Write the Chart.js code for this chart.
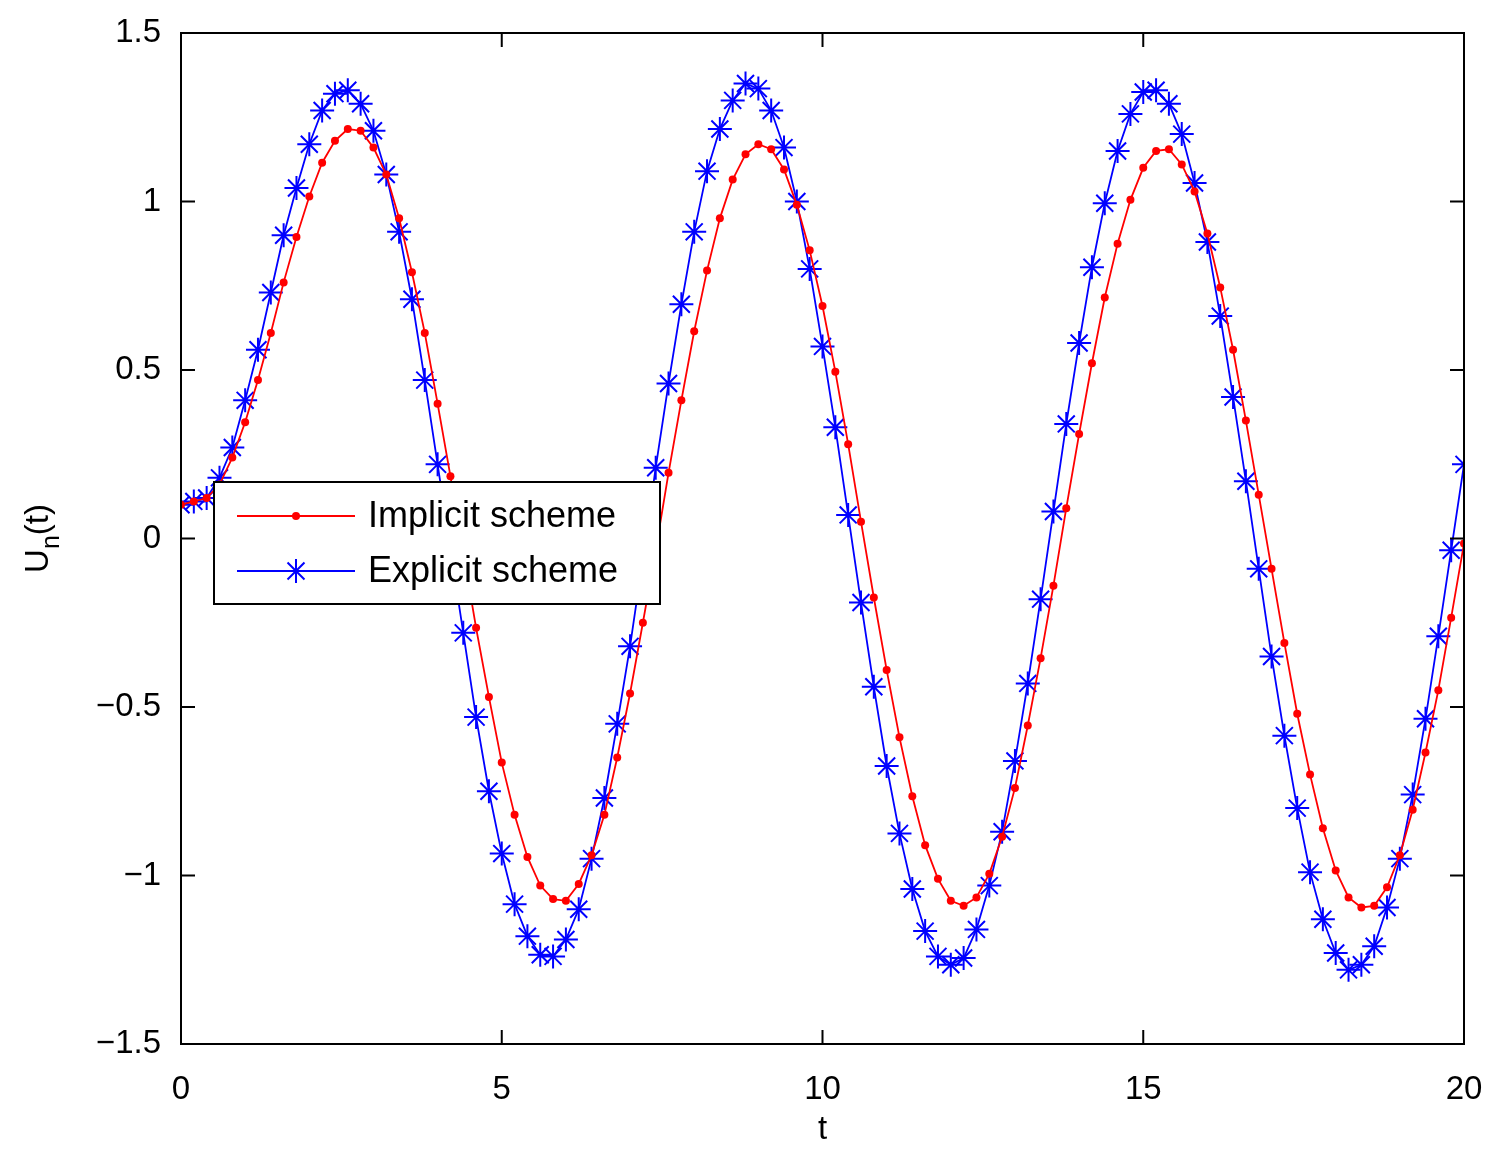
<!DOCTYPE html>
<html>
<head>
<meta charset="utf-8">
<script src="https://cdn.jsdelivr.net/npm/chart.js@4.4.0/dist/chart.umd.min.js"></script>
<style>
  html, body { margin: 0; padding: 0; background: #fff; }
  #wrap { width: 1503px; height: 1154px; }
</style>
</head>
<body>
<div id="wrap"><canvas id="chart" width="1503" height="1154"></canvas></div>
<script>
const tValues = [
  0, 0.2, 0.4, 0.6, 0.8, 1, 1.2, 1.4, 1.6, 1.8, 2, 2.2, 2.4, 2.6, 2.8, 3, 3.2, 3.4, 3.6, 3.8,
  4, 4.2, 4.4, 4.6, 4.8, 5, 5.2, 5.4, 5.6, 5.8, 6, 6.2, 6.4, 6.6, 6.8, 7, 7.2, 7.4, 7.6, 7.8,
  8, 8.2, 8.4, 8.6, 8.8, 9, 9.2, 9.4, 9.6, 9.8, 10, 10.2, 10.4, 10.6, 10.8, 11, 11.2, 11.4, 11.6, 11.8,
  12, 12.2, 12.4, 12.6, 12.8, 13, 13.2, 13.4, 13.6, 13.8, 14, 14.2, 14.4, 14.6, 14.8, 15, 15.2, 15.4, 15.6, 15.8,
  16, 16.2, 16.4, 16.6, 16.8, 17, 17.2, 17.4, 17.6, 17.8, 18, 18.2, 18.4, 18.6, 18.8, 19, 19.2, 19.4, 19.6, 19.8, 20
];

const implicitScheme = [
  0.10, 0.11, 0.12, 0.16, 0.24, 0.345, 0.47, 0.61, 0.76, 0.895, 1.015, 1.115, 1.18, 1.215, 1.21, 1.16, 1.08, 0.95, 0.79, 0.61,
  0.40, 0.185, -0.04, -0.265, -0.47, -0.665, -0.82, -0.945, -1.03, -1.07, -1.075, -1.025, -0.94, -0.82, -0.65, -0.46, -0.25, -0.035, 0.195, 0.41,
  0.615, 0.795, 0.95, 1.065, 1.14, 1.17, 1.155, 1.095, 0.99, 0.855, 0.69, 0.495, 0.28, 0.05, -0.175, -0.39, -0.59, -0.765, -0.91, -1.01,
  -1.075, -1.09, -1.065, -0.995, -0.885, -0.74, -0.555, -0.355, -0.14, 0.09, 0.31, 0.52, 0.715, 0.875, 1.005, 1.10, 1.15, 1.155, 1.11, 1.03,
  0.905, 0.745, 0.56, 0.35, 0.13, -0.09, -0.31, -0.52, -0.70, -0.86, -0.985, -1.065, -1.095, -1.09, -1.035, -0.94, -0.805, -0.635, -0.45, -0.235, -0.015
];

const explicitScheme = [
  0.10, 0.11, 0.12, 0.18, 0.27, 0.41, 0.56, 0.73, 0.90, 1.04, 1.17, 1.27, 1.32, 1.33, 1.29, 1.21, 1.08, 0.91, 0.71, 0.47,
  0.22, -0.03, -0.28, -0.53, -0.75, -0.935, -1.085, -1.18, -1.235, -1.24, -1.19, -1.10, -0.95, -0.77, -0.55, -0.32, -0.06, 0.21, 0.46, 0.695,
  0.91, 1.09, 1.215, 1.30, 1.35, 1.335, 1.27, 1.16, 1.00, 0.80, 0.57, 0.33, 0.07, -0.19, -0.44, -0.675, -0.875, -1.04, -1.165, -1.24,
  -1.265, -1.245, -1.16, -1.03, -0.87, -0.66, -0.43, -0.18, 0.08, 0.34, 0.58, 0.805, 0.995, 1.15, 1.26, 1.325, 1.33, 1.29, 1.20, 1.055,
  0.88, 0.66, 0.42, 0.17, -0.09, -0.35, -0.585, -0.80, -0.99, -1.13, -1.23, -1.28, -1.265, -1.21, -1.095, -0.95, -0.76, -0.535, -0.29, -0.035, 0.22
];

const xTicks = [0, 5, 10, 15, 20];
const yTicks = [-1.5, -1, -0.5, 0, 0.5, 1, 1.5];
const legendLabels = ['Implicit scheme', 'Explicit scheme'];

const FONT = '"Liberation Sans", Arial, Helvetica, sans-serif';
const fmt = v => (v < 0 ? '\u2212' + String(-v) : String(v));

const toPoints = ys => ys.map((y, i) => ({ x: tValues[i], y: y }));

// MATLAB style frame, inward ticks, axis titles and legend box
const framePlugin = {
  id: 'frame',
  afterDraw(chart) {
    const ctx = chart.ctx;
    const a = chart.chartArea;
    const xs = chart.scales.x, ys = chart.scales.y;
    ctx.save();
    ctx.strokeStyle = '#000';
    ctx.lineWidth = 2;
    ctx.strokeRect(a.left, a.top, a.right - a.left, a.bottom - a.top);
    ctx.lineWidth = 2;
    const tl = 14;
    ctx.beginPath();
    xTicks.forEach(v => {
      const px = xs.getPixelForValue(v);
      ctx.moveTo(px, a.bottom); ctx.lineTo(px, a.bottom - tl);
      ctx.moveTo(px, a.top); ctx.lineTo(px, a.top + tl);
    });
    yTicks.forEach(v => {
      const py = ys.getPixelForValue(v);
      ctx.moveTo(a.left, py); ctx.lineTo(a.left + tl, py);
      ctx.moveTo(a.right, py); ctx.lineTo(a.right - tl, py);
    });
    ctx.stroke();

    // axis titles
    ctx.fillStyle = '#000';
    ctx.font = '33px ' + FONT;
    ctx.textAlign = 'center';
    ctx.textBaseline = 'alphabetic';
    ctx.fillText('t', (a.left + a.right) / 2, 1139);
    ctx.save();
    ctx.translate(48, (a.top + a.bottom) / 2);
    ctx.rotate(-Math.PI / 2);
    ctx.textAlign = 'left';
    const w1 = ctx.measureText('U').width;
    ctx.font = '25px ' + FONT;
    const w2 = ctx.measureText('n').width;
    ctx.font = '33px ' + FONT;
    const w3 = ctx.measureText('(t)').width;
    let x0 = -(w1 + w2 + w3) / 2;
    ctx.fillText('U', x0, 0);
    ctx.font = '25px ' + FONT;
    ctx.fillText('n', x0 + w1, 11);
    ctx.font = '33px ' + FONT;
    ctx.fillText('(t)', x0 + w1 + w2, 0);
    ctx.restore();

    // legend
    const lx = 214, ly = 482, lw = 446, lh = 122;
    ctx.fillStyle = '#fff';
    ctx.fillRect(lx, ly, lw, lh);
    ctx.lineWidth = 2;
    ctx.strokeStyle = '#000';
    ctx.strokeRect(lx, ly, lw, lh);
    chart.data.datasets.forEach((ds, i) => {
      const yy = ly + 34 + i * 55;
      ctx.strokeStyle = ds.borderColor;
      ctx.lineWidth = 1.8;
      ctx.beginPath();
      ctx.moveTo(237, yy); ctx.lineTo(355, yy);
      ctx.stroke();
      if (ds.pointStyle === 'star') {
        ctx.lineWidth = 2;
        ctx.beginPath();
        const r = 12;
        ctx.moveTo(296 - r, yy); ctx.lineTo(296 + r, yy);
        ctx.moveTo(296, yy - r); ctx.lineTo(296, yy + r);
        const d = r * 0.707;
        ctx.moveTo(296 - d, yy - d); ctx.lineTo(296 + d, yy + d);
        ctx.moveTo(296 - d, yy + d); ctx.lineTo(296 + d, yy - d);
        ctx.stroke();
      } else {
        ctx.fillStyle = ds.borderColor;
        ctx.beginPath();
        ctx.arc(296, yy, 4, 0, Math.PI * 2);
        ctx.fill();
      }
      ctx.fillStyle = '#000';
      ctx.font = '36px ' + FONT;
      ctx.textAlign = 'left';
      ctx.textBaseline = 'middle';
      ctx.fillText(legendLabels[i], 368, yy + 1);
    });
    ctx.restore();
  }
};

new Chart(document.getElementById('chart'), {
  type: 'line',
  data: {
    datasets: [
      {
        label: legendLabels[0],
        data: toPoints(implicitScheme),
        borderColor: '#ff0000',
        backgroundColor: '#ff0000',
        borderWidth: 1.8,
        pointStyle: 'circle',
        pointRadius: 4,
        pointBorderWidth: 0,
        tension: 0
      },
      {
        label: legendLabels[1],
        data: toPoints(explicitScheme),
        borderColor: '#0000ff',
        backgroundColor: '#0000ff',
        borderWidth: 1.8,
        pointStyle: 'star',
        pointRadius: 12,
        pointBorderWidth: 2,
        tension: 0
      }
    ]
  },
  options: {
    responsive: false,
    animation: false,
    devicePixelRatio: 1,
    layout: { padding: { left: 0, right: 39, top: 33, bottom: 0 } },
    plugins: { legend: { display: false }, tooltip: { enabled: false } },
    scales: {
      x: {
        type: 'linear', min: 0, max: 20,
        afterBuildTicks: s => { s.ticks = xTicks.map(v => ({ value: v })); },
        afterFit: s => { s.height = 110; },
        grid: { display: false }, border: { display: false },
        ticks: { color: '#000', font: { family: FONT, size: 33 }, padding: 18, maxRotation: 0, callback: v => fmt(v) }
      },
      y: {
        type: 'linear', min: -1.5, max: 1.5,
        afterBuildTicks: s => { s.ticks = yTicks.map(v => ({ value: v })); },
        afterFit: s => { s.width = 181; },
        grid: { display: false }, border: { display: false },
        ticks: { color: '#000', font: { family: FONT, size: 33 }, padding: 12, callback: v => fmt(v) }
      }
    }
  },
  plugins: [framePlugin]
});
</script>
</body>
</html>
